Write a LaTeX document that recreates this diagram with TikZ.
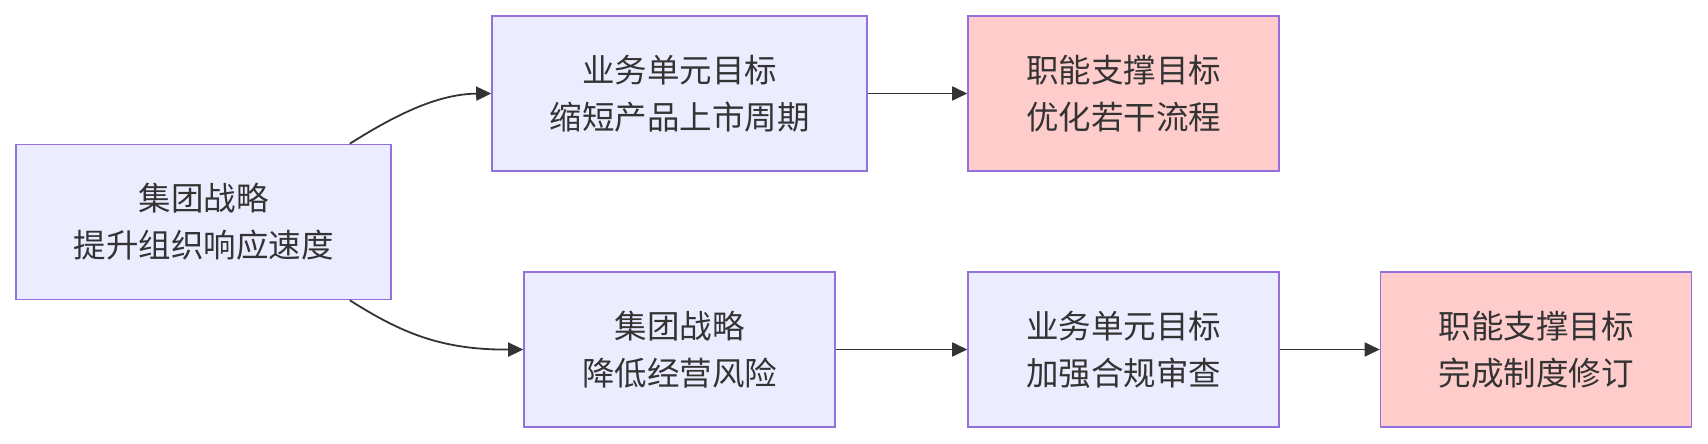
\documentclass[tikz,border=0pt]{standalone}
\usepackage{fontspec}
\setmainfont{Noto Sans CJK SC}
\usepackage{tikz}
\usetikzlibrary{arrows.meta,calc}
\definecolor{mmfill}{HTML}{ECECFF}
\definecolor{mmline}{HTML}{9370DB}
\definecolor{mmpink}{HTML}{FFCCCC}
\definecolor{mmtext}{HTML}{333333}

\begin{document}
\begin{tikzpicture}[x=1pt, y=-1pt,
      goalbox/.style={draw=mmline, fill=mmfill, line width=1.6pt, minimum height=155pt, align=center, text=mmtext, font=\fontsize{32.5pt}{47pt}\selectfont},
      widebox/.style={goalbox, minimum width=375pt},
      narrowbox/.style={goalbox, minimum width=311pt},
      supbox/.style={narrowbox, fill=mmpink},
      link/.style={draw=mmtext, line width=1.8pt, -{Triangle[length=15pt,width=14pt]}}
    ]
      \useasboundingbox (0,0) rectangle (1708,444);

      % group strategy
      \node[widebox] (group) at (203.5, 222) {集团战略\\提升组织响应速度};

      % upper branch
      \node[widebox] (unitA) at (679.5, 93.5) {业务单元目标\\缩短产品上市周期};
      \node[supbox] (funcA) at (1123.5, 93.5) {职能支撑目标\\优化若干流程};

      % lower branch
      \node[narrowbox] (riskA) at (679.5, 349.5) {集团战略\\降低经营风险};
      \node[narrowbox] (unitB) at (1123.5, 349.5) {业务单元目标\\加强合规审查};
      \node[supbox] (funcB) at (1536, 349.5) {职能支撑目标\\完成制度修订};

      % connectors
      \draw[link] ($(group.north east)+(-42,0)$) .. controls (400,112) and (440,94) .. (unitA.west);
      \draw[link] ($(group.south east)+(-42,0)$) .. controls (400,332) and (440,350) .. (riskA.west);
      \draw[link] (unitA) -- (funcA);
      \draw[link] (riskA) -- (unitB);
      \draw[link] (unitB) -- (funcB);
    \end{tikzpicture}
\end{document}
